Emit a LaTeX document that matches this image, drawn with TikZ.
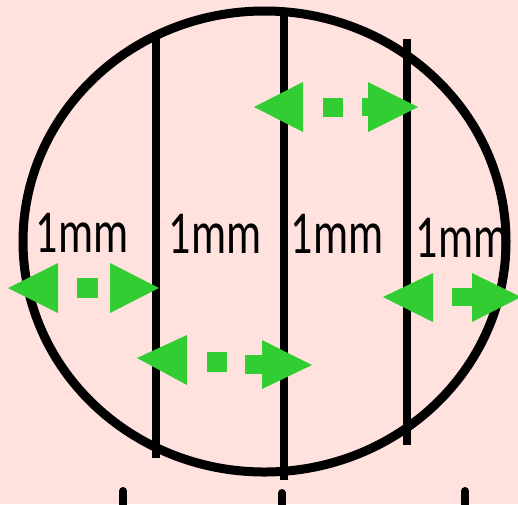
\documentclass[tikz,border=0pt]{standalone}
\usepackage{fontspec}
\setmainfont{Carlito}
\usetikzlibrary{calc}
\definecolor{bgpink}{RGB}{255,226,222}
\definecolor{arrgreen}{RGB}{50,205,50}
\tikzset{
  outline/.style={draw=black, line width=9pt},
  divider/.style={draw=black, line width=8pt},
  stub/.style={draw=black, line width=8pt, line cap=round},
  label/.style={font=\fontsize{61}{61}\selectfont, xscale=0.72, anchor=base, inner sep=0pt, text=black},
  greenfill/.style={fill=arrgreen, draw=none},
}
\begin{document}
\begin{tikzpicture}[x=1pt, y=-1pt]
\useasboundingbox (0,0) rectangle (518,504);
\fill[bgpink] (0,0) rectangle (518,504);

% circle
\draw[outline] (264.5,241.5) ellipse [x radius=241.5, y radius=230.5];

% vertical dividers
\coordinate (l1t) at (156,37);  \coordinate (l1b) at (156,458);
\coordinate (l2t) at (284,12);  \coordinate (l2b) at (284,480);
\coordinate (l3t) at (407,39);  \coordinate (l3b) at (407,445);
\draw[divider] (l1t) -- (l1b);
\draw[divider] (l2t) -- (l2b);
\draw[divider] (l3t) -- (l3b);

% cut-off marks at the bottom edge
\coordinate (m1) at (123,491); \coordinate (m2) at (282,493); \coordinate (m3) at (465,491);
\draw[stub] (m1) -- ++(0,20);
\draw[stub] (m2) -- ++(0,20);
\draw[stub] (m3) -- ++(0,20);

% labels
\node[label] (t1) at (82,252) {1mm};
\node[label] (t2) at (215,253) {1mm};
\node[label] (t3) at (337,253) {1mm};
\node[label] (t4) at (462,257) {1mm};

% arrow A (left)
\coordinate (aL) at (8,288); \coordinate (aR) at (159,288);
\fill[greenfill] (aL) -- ($(aL)+(50,-25)$) -- ($(aL)+(50,25)$) -- cycle;
\fill[greenfill] ($(aR)+(-49,-25)$) -- (aR) -- ($(aR)+(-49,25)$) -- cycle;
\fill[greenfill] (77,278) rectangle (98,298);

% arrow B (top)
\coordinate (bL) at (254,107); \coordinate (bR) at (418,107);
\fill[greenfill] (bL) -- ($(bL)+(49,-25)$) -- ($(bL)+(49,25)$) -- cycle;
\fill[greenfill] ($(bR)+(-50,-25)$) -- (bR) -- ($(bR)+(-50,25)$) -- cycle;
\fill[greenfill] (323,97.5) rectangle (343,116.5);
\fill[greenfill] (362,98) rectangle (369,116);

% arrow C (bottom)
\coordinate (cL) at (137,358); \coordinate (cR) at (312,365);
\fill[greenfill] (cL) -- (187,335) -- (187,385) -- cycle;
\fill[greenfill] (262,340) -- (cR) -- (262,389) -- cycle;
\fill[greenfill] (207,352) rectangle (227,372);
\fill[greenfill] (245,355) rectangle (263,374);

% arrow D (right)
\coordinate (dL) at (383,297); \coordinate (dR) at (521,297);
\fill[greenfill] (dL) -- (433,273) -- (433,322) -- cycle;
\fill[greenfill] (472,273) -- (dR) -- (472,322) -- cycle;
\fill[greenfill] (452,288) rectangle (473,306);
\end{tikzpicture}
\end{document}
